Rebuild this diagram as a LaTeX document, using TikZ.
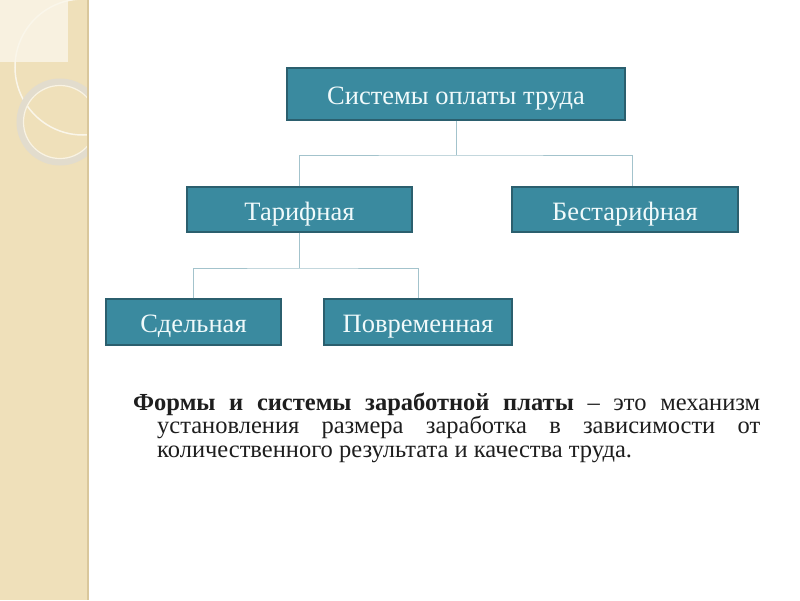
\documentclass[tikz,border=0pt]{standalone}
\usepackage{fontspec}
\setmainfont{Liberation Serif}
\definecolor{boxfill}{HTML}{3A8A9F}
\definecolor{boxline}{HTML}{2B5F6E}
\definecolor{boxtext}{HTML}{F0FAFB}
\definecolor{conn}{HTML}{A3C3CC}
\definecolor{strip}{HTML}{EFE0BA}
\definecolor{stripedge}{HTML}{D9C79C}
\definecolor{bodytext}{HTML}{1E1E1E}
\tikzset{
  sbox/.style={draw=boxline, line width=1.2pt, fill=boxfill, text=boxtext, inner sep=0pt,
    text height=21.5pt, text depth=0pt,
    font=\fontsize{26.5}{30}\selectfont},
  connline/.style={draw=conn, line width=1pt}
}
\begin{document}
\begin{tikzpicture}[x=1pt,y=-1pt]
\useasboundingbox (0,0) rectangle (800,600);
\fill[white] (0,0) rectangle (800,600);
% left decorative strip
\begin{scope}
\clip (0,0) rectangle (88,600);
\fill[strip] (0,0) rectangle (88,600);
\fill[white!55!strip] (0,0) rectangle (68,62);
\draw[white!70!strip, line width=1.5pt] (83,67) circle (68);
\draw[white!70!gray!60!strip, line width=7pt] (60,122) circle (40);
\draw[white!60!strip, line width=1.2pt] (60,122) circle (36.5);
\end{scope}
\draw[stripedge, line width=2pt] (88,0) -- (88,600);
% boxes
\node[sbox, minimum width=338pt, minimum height=52pt] (top) at (456,94) {Системы оплаты труда};
\node[sbox, minimum width=225pt, minimum height=45pt] (tar) at (299.5,209.5) {Тарифная};
\node[sbox, minimum width=226pt, minimum height=45pt] (best) at (625,209.5) {Бестарифная};
\node[sbox, minimum width=175pt, minimum height=46pt] (sd) at (193.5,322) {Сдельная};
\node[sbox, minimum width=188pt, minimum height=46pt] (pov) at (418,322) {Повременная};
% connectors
\coordinate (j1) at (456,155);
\draw[connline] (top.south) -- (j1);
\draw[connline] (tar.north) |- (j1) -| ([xshift=7pt]best.north);
\coordinate (j2) at (299.5,268);
\draw[connline] (tar.south) -- (j2);
\draw[connline] (sd.north) |- (j2) -| (pov.north);
% text
\node[anchor=base west, inner sep=0pt, text width=627pt, align=justify, text=bodytext,
  font=\fontsize{24.5}{23.5}\selectfont] (txt) at (133,410)
{\hangindent=24pt\hangafter=1\textbf{Формы и системы заработной платы} – это механизм\linebreak
установления размера заработка в зависимости от\linebreak
количественного результата и качества труда.\par};
\end{tikzpicture}
\end{document}
